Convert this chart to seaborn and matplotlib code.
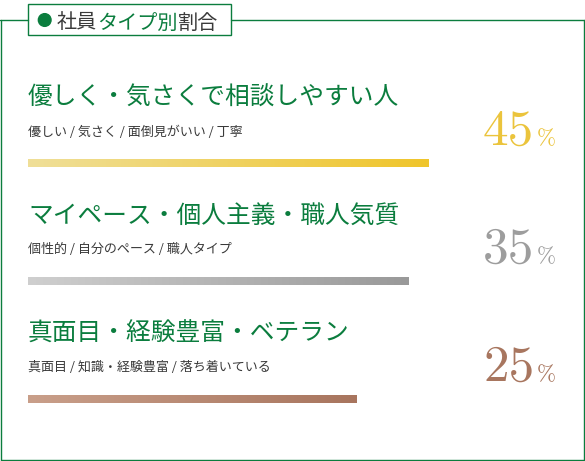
"""
社員タイプ別割合 - horizontal gradient bars with big percentage labels
"""
import numpy as np
import pandas as pd
import matplotlib
matplotlib.use("Agg")
import matplotlib.pyplot as plt
from matplotlib.colors import LinearSegmentedColormap
from matplotlib.patches import Rectangle, Ellipse
from matplotlib.lines import Line2D
import seaborn as sns

# ---- data ----
title_parts = ["社員", "タイプ別", "割合"]
types = ["優しく・気さくで相談しやすい人",
         "マイペース・個人主義・職人気質",
         "真面目・経験豊富・ベテラン"]
keywords = ["優しい / 気さく / 面倒見がいい / 丁寧",
            "個性的 / 自分のペース / 職人タイプ",
            "真面目 / 知識・経験豊富 / 落ち着いている"]
shares = [45, 35, 25]
bar_length = [100, 95, 82]   # drawn bar length, % of the track

# ---- styles ----
green = "#0b7d3e"
grey_txt = "#3a3a3a"
bar_light = ["#f0df98", "#cfcfcf", "#c99f8a"]
bar_dark = ["#efc52b", "#999999", "#a8755e"]
pct_colors = ["#ebc43c", "#9d9d9d", "#a8765f"]

sns.set_style("white")
cjk = ["Noto Sans CJK JP", "DejaVu Sans"]
serif = ["cmr10", "DejaVu Serif"]
plt.rcParams["font.family"] = cjk

W, H = 585, 461
fig = plt.figure(figsize=(W / 100, H / 100), dpi=100)


def fx(x):
    return x / W


def fy(y):
    return 1 - y / H


# bars axis: 0..100 over 400px, rows 118px apart
ax = fig.add_axes([fx(28), 0, 400 / W, 1])
df = pd.DataFrame({"type": types, "length": bar_length})
sns.barplot(data=df, x="length", y="type", orient="h", width=8 / 118,
            color="white", ax=ax)

# gradient fill for each bar
grad = np.linspace(0, 1, 256).reshape(1, -1)
for i, bar in enumerate(ax.patches):
    x0, y0 = bar.get_x(), bar.get_y()
    w, h = bar.get_width(), bar.get_height()
    cmap = LinearSegmentedColormap.from_list(f"bar{i}", [bar_light[i], bar_dark[i]])
    im = ax.imshow(grad, cmap=cmap, aspect="auto", interpolation="bicubic",
                   extent=[x0, x0 + w, y0 + h, y0], zorder=2)
    im.set_clip_path(bar)
    bar.set_facecolor("none")
    bar.set_edgecolor("none")

ax.set_xlim(0, 100)
ax.set_ylim((H - 163) / 118, -163 / 118)
ax.axis("off")

# labels
for i in range(len(types)):
    ax.text(0, i - 0.55, types[i], color=green, fontsize=17.8, family=cjk,
            va="center", ha="left")
    ax.text(0, i - 0.263, keywords[i], color=grey_txt, fontsize=9.4, family=cjk,
            va="center", ha="left")
    num = ax.text(113.75, i - 0.153, str(shares[i]), family=serif, fontsize=37,
                  color=pct_colors[i], va="baseline", ha="left", clip_on=False)
    ax.annotate("%", xy=(1, i - 0.153), xycoords=(num, "data"),
                xytext=(2, 0), textcoords="offset points", family=serif,
                fontsize=16.5, color=pct_colors[i], va="baseline", ha="left")

# frame
line_kw = dict(color=green, lw=1.0, transform=fig.transFigure)
fig.add_artist(Line2D([fx(0), fx(27.5)], [fy(20.5)] * 2, **line_kw))
fig.add_artist(Line2D([fx(231), fx(585)], [fy(20.5)] * 2, **line_kw))
fig.add_artist(Line2D([fx(1)] * 2, [fy(20.5), fy(460)], **line_kw))
fig.add_artist(Line2D([fx(1), fx(583.5)], [fy(460)] * 2, **line_kw))
fig.add_artist(Line2D([fx(583.5)] * 2, [fy(20.5), fy(460)], **line_kw))
fig.add_artist(Rectangle((fx(27.5), fy(35)), fx(231) - fx(27.5), fy(4.5) - fy(35),
                         fill=False, edgecolor=green, lw=1.0,
                         transform=fig.transFigure))
fig.add_artist(Ellipse((fx(44.7), fy(20)), 12.7 / W, 12.7 / H, color=green,
                       transform=fig.transFigure))

# title, multi-colour pieces placed one after another
prev = fig.text(fx(57), fy(28.5), title_parts[0], color=grey_txt, fontsize=14.5,
                family=cjk, va="baseline", ha="left")
for part, col in zip(title_parts[1:], [green, grey_txt]):
    prev = fig.add_artist(matplotlib.text.Annotation(
        part, xy=(1, fy(28.5)), xycoords=(prev, fig.transFigure),
        xytext=(0, 0), textcoords="offset points", color=col, fontsize=14.5,
        family=cjk, va="baseline", ha="left"))

fig.savefig("out.png", dpi=100)
